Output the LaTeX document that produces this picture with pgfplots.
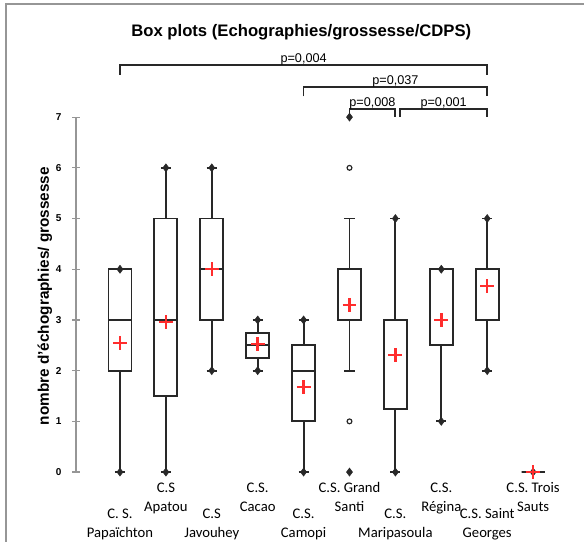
\documentclass[border=0pt]{standalone}
\usepackage{fontspec}
\setmainfont{Liberation Sans}
\newfontfamily\calibri{Carlito}
\usepackage{pgfplots}
\pgfplotsset{compat=1.18}
\usepgfplotslibrary{statistics}
\definecolor{meanred}{RGB}{255,45,45}
\definecolor{boxgray}{RGB}{40,40,40}
\definecolor{framegray}{RGB}{150,150,150}

\begin{document}
\begin{tikzpicture}
\begin{axis}[
    scale only axis, width=377.3pt, height=266.2pt,
    xmin=0.04, xmax=11, ymin=0, ymax=7,
    clip=false,
    boxplot/draw direction=y,
    every axis plot/.append style={line width=1.4pt},
    boxplot/every box/.style={draw=boxgray, line width=1.4pt},
    boxplot/every whisker/.style={draw=boxgray, line width=1.4pt},
    boxplot/every median/.style={draw=boxgray, line width=1.4pt},
    axis x line*=bottom, axis y line*=left,
    x axis line style={draw=none},
    y axis line style={framegray, line width=0.9pt},
    ytick={0,...,7},
    ytick style={framegray, line width=0.9pt},
    tick align=center, major tick length=5.5pt,
    xtick={1,...,10},
    major x tick style={draw=none},
    xticklabels={
        {\strut\\[5pt]C. S.\\Papaïchton},
        {\strut C.S\\Apatou},
        {\strut\\[5pt]C.S\\Javouhey},
        {\strut C.S.\\Cacao},
        {\strut\\[5pt]C.S.\\Camopi},
        {\strut C.S. Grand\\Santi},
        {\strut\\[5pt]C.S.\\Maripasoula},
        {\strut C.S.\\Régina},
        {\strut\\[5pt]C.S. Saint\\Georges},
        {\strut C.S. Trois\\Sauts}},
    xticklabel style={font=\calibri\fontsize{11}{14.5}\selectfont, align=center,
        anchor=north, inner sep=0pt, yshift=-2pt},
    yticklabel style={font=\bfseries\fontsize{7.5}{8}\selectfont, anchor=east, inner sep=0pt, xshift=-8pt},
    /pgf/number format/assume math mode=true,
]
% whiskers, boxes and medians
\addplot[boxplot prepared={lower whisker=0, lower quartile=2, median=3, upper quartile=4, upper whisker=4, draw position=1, box extend=0.5, whisker extend=0.22}, draw=boxgray] coordinates {};
\addplot[boxplot prepared={lower whisker=0, lower quartile=1.5, median=3, upper quartile=5, upper whisker=6, draw position=2, box extend=0.5, whisker extend=0.22}, draw=boxgray] coordinates {};
\addplot[boxplot prepared={lower whisker=2, lower quartile=3, median=4, upper quartile=5, upper whisker=6, draw position=3, box extend=0.5, whisker extend=0.22}, draw=boxgray] coordinates {};
\addplot[boxplot prepared={lower whisker=2, lower quartile=2.25, median=2.5, upper quartile=2.75, upper whisker=3, draw position=4, box extend=0.5, whisker extend=0.22}, draw=boxgray] coordinates {};
\addplot[boxplot prepared={lower whisker=0, lower quartile=1, median=2, upper quartile=2.5, upper whisker=3, draw position=5, box extend=0.5, whisker extend=0.22}, draw=boxgray] coordinates {};
\addplot[boxplot prepared={lower whisker=2, lower quartile=3, median=3, upper quartile=4, upper whisker=5, draw position=6, box extend=0.5, whisker extend=0.22}, draw=boxgray] coordinates {};
\addplot[boxplot prepared={lower whisker=0, lower quartile=1.25, median=3, upper quartile=3, upper whisker=5, draw position=7, box extend=0.5, whisker extend=0.22}, draw=boxgray] coordinates {};
\addplot[boxplot prepared={lower whisker=1, lower quartile=2.5, median=4, upper quartile=4, upper whisker=4, draw position=8, box extend=0.5, whisker extend=0.22}, draw=boxgray] coordinates {};
\addplot[boxplot prepared={lower whisker=2, lower quartile=3, median=4, upper quartile=4, upper whisker=5, draw position=9, box extend=0.5, whisker extend=0.22}, draw=boxgray] coordinates {};
\addplot[boxplot prepared={lower whisker=0, lower quartile=0, median=0, upper quartile=0, upper whisker=0, draw position=10, box extend=0.5, whisker extend=0.22}, draw=boxgray] coordinates {};

% minimum / maximum markers
\addplot[only marks, mark=diamond*, mark size=3pt, boxgray, line width=0.4pt] coordinates {
    (1,0) (1,4) (2,0) (2,6) (3,2) (3,6) (4,2) (4,3) (5,0) (5,3)
    (6,7) (6,0) (7,0) (7,5) (8,1) (8,4) (9,2) (9,5) (10,0)};
% outliers
\addplot[only marks, mark=o, mark size=1.8pt, boxgray, line width=0.9pt] coordinates {(6,6) (6,1)};
% means
\addplot[only marks, mark=+, mark size=5.2pt, meanred, line width=1.8pt] coordinates {
    (1,2.55) (2,2.96) (3,4.0) (4,2.52) (5,1.68) (6,3.3) (7,2.31) (8,3.0) (9,3.67) (10,0)};

% significance brackets
\draw[boxgray, line width=1.1pt] (axis cs:1,7.84) -- (axis cs:1,8.03) -- (axis cs:9,8.03) -- (axis cs:9,7.84);
\draw[boxgray, line width=1.1pt] (axis cs:5,7.41) -- (axis cs:5,7.59) -- (axis cs:9,7.59) -- (axis cs:9,7.41);
\draw[boxgray, line width=1.1pt] (axis cs:6,7.01) -- (axis cs:6,7.16) -- (axis cs:6.99,7.16) -- (axis cs:6.99,7.01);
\draw[boxgray, line width=1.1pt] (axis cs:7.1,7.01) -- (axis cs:7.1,7.16) -- (axis cs:9,7.16) -- (axis cs:9,7.01);
\node[anchor=base, font=\fontsize{9.5}{11}\selectfont, yshift=2pt] at (axis cs:5,8.03) {p=0,004};
\node[anchor=base, font=\fontsize{9.5}{11}\selectfont, yshift=2pt] at (axis cs:7,7.59) {p=0,037};
\node[anchor=base, font=\fontsize{9.5}{11}\selectfont, yshift=2pt] at (axis cs:6.5,7.16) {p=0,008};
\node[anchor=base, font=\fontsize{9.5}{11}\selectfont, yshift=2pt] at (axis cs:8.05,7.16) {p=0,001};

% title and axis label
\node[font=\bfseries\fontsize{12.5}{14}\selectfont] at (axis cs:4.95,8.68) {Box plots (Echographies/grossesse/CDPS)};
\node[rotate=90, font=\bfseries\fontsize{11.5}{13}\selectfont] at (axis cs:-0.634,3.47) {nombre d'échographies/ grossesse};

% chart frame (left and top edges visible)
\draw[framegray, line width=1.5pt] (axis cs:-1.473,-1.5) -- (axis cs:-1.473,9.231) -- (axis cs:11.3,9.231);
\coordinate (bl) at (axis cs:-1.614,-1.361);
\coordinate (tr) at (axis cs:11.109,9.31);
\end{axis}
\pgfresetboundingbox
\path[use as bounding box] (bl) rectangle (tr);
\end{tikzpicture}
\end{document}
